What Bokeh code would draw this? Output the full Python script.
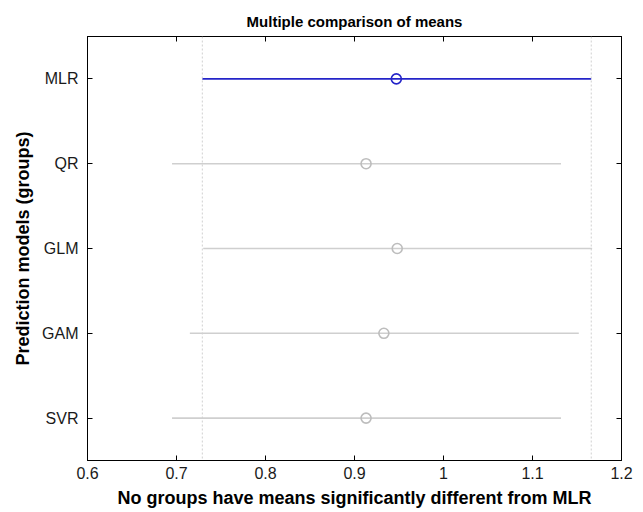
from bokeh.plotting import figure
from bokeh.models import FactorRange, Range1d, Span, LinearAxis, CategoricalAxis, NumeralTickFormatter, FixedTicker, ColumnDataSource, CustomJSTickFormatter
from bokeh.embed import file_html
from bokeh.resources import INLINE

groups = ["MLR", "QR", "GLM", "GAM", "SVR"]
means = [0.947, 0.913, 0.948, 0.933, 0.913]
lower = [0.729, 0.695, 0.730, 0.715, 0.695]
upper = [1.166, 1.132, 1.167, 1.152, 1.132]
x_ticks = [0.6, 0.7, 0.8, 0.9, 1.0, 1.1, 1.2]
reference_group = "MLR"

FONT = "Liberation Sans"
line_colors = ["#2424c8" if g == reference_group else "#cfcfcf" for g in groups]
marker_colors = ["#2424c8" if g == reference_group else "#bdbdbd" for g in groups]

src = ColumnDataSource(dict(g=groups, m=means, lo=lower, hi=upper, lc=line_colors, mc=marker_colors))

p = figure(width=635, height=510,
           y_range=FactorRange(factors=groups[::-1]),
           x_range=Range1d(x_ticks[0], x_ticks[-1]),
           output_backend="svg", toolbar_location=None,
           min_border_left=87, min_border_right=14, min_border_bottom=46, min_border_top=36)

p.title.text = "Multiple comparison of means"
p.title.align = "center"
p.title.text_font = FONT
p.title.text_font_size = "15px"
p.title.text_font_style = "bold"
p.title.text_color = "black"
p.title.standoff = 14

p.xgrid.visible = False
p.ygrid.visible = False
p.outline_line_color = "black"

for s in (lower[0], upper[0]):
    p.add_layout(Span(location=s, dimension="height", line_color="#d0d0d0", line_dash="2 2", line_width=1))

p.segment(x0="lo", y0="g", x1="hi", y1="g", line_color="lc", line_width=1.6, source=src)
p.scatter(x="m", y="g", marker="circle", size=10, fill_color=None, line_color="mc", line_width=1.6, source=src)

xa = p.xaxis[0]
xa.ticker = FixedTicker(ticks=x_ticks)
xa.formatter = NumeralTickFormatter(format="0.[0]")
xa.axis_label = "No groups have means significantly different from MLR"
ya = p.yaxis[0]
ya.axis_label = "Prediction models (groups)"
for ax in (xa, ya):
    ax.major_tick_in = 5
    ax.major_tick_out = 0
    ax.minor_tick_in = 0
    ax.minor_tick_out = 0
    ax.axis_line_color = "black"
    ax.major_tick_line_color = "black"
    ax.major_label_text_font = FONT
    ax.major_label_text_font_size = "16px"
    ax.major_label_text_color = "#1a1a1a"
    ax.axis_label_text_font = FONT
    ax.axis_label_text_font_size = "18px"
    ax.axis_label_text_font_style = "bold"
    ax.axis_label_text_color = "black"
xa.major_label_standoff = 6
xa.axis_label_standoff = 6
ya.major_label_standoff = 9
ya.axis_label_standoff = 6

blank = CustomJSTickFormatter(code="return ''")
top = LinearAxis(ticker=FixedTicker(ticks=x_ticks), formatter=blank,
                 major_tick_in=5, major_tick_out=0, minor_tick_in=0, minor_tick_out=0,
                 major_label_standoff=0, axis_line_color="black")
p.add_layout(top, "above")
right = CategoricalAxis(formatter=CustomJSTickFormatter(code="return ''"), major_tick_in=5, major_tick_out=0,
                        major_label_standoff=0, axis_line_color="black")
p.add_layout(right, "right")

open("out.html", "w").write(file_html(p, INLINE))
